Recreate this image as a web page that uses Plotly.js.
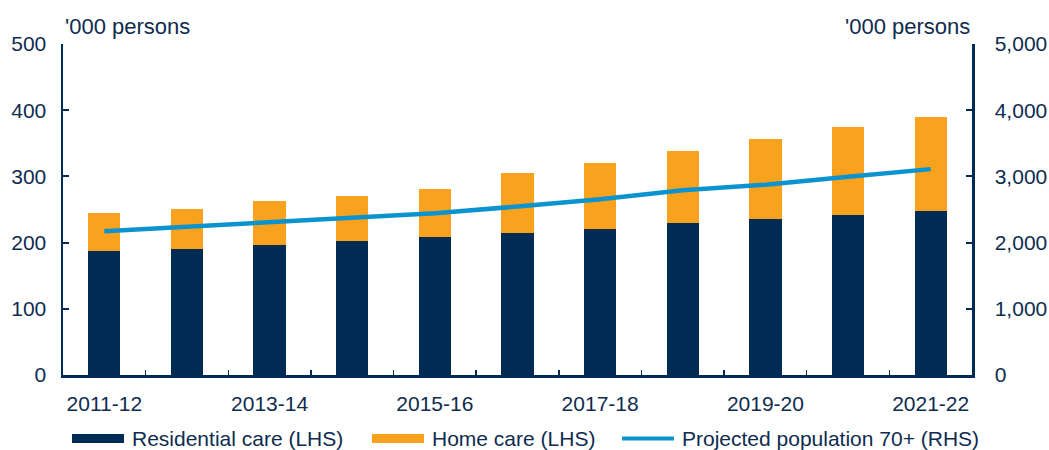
<!DOCTYPE html>
<html>
<head>
<meta charset="utf-8">
<script src="https://cdn.plot.ly/plotly-3.0.1.min.js"></script>
<style>html,body{margin:0;padding:0;background:#fff;}#chart{width:1049px;height:450px;}</style>
</head>
<body>
<div id="chart"></div>
<script>
const categories = ["2011-12","2012-13","2013-14","2014-15","2015-16","2016-17","2017-18","2018-19","2019-20","2020-21","2021-22"];
const residentialCare = [187, 190, 196, 202, 208, 214, 220, 229, 235, 241, 247];
const totalCare = [245, 251, 263, 271, 281, 305, 320, 338, 356, 374, 389];
const homeCare = totalCare.map((t, i) => t - residentialCare[i]);
const population70 = [2170, 2240, 2300, 2370, 2445, 2545, 2655, 2790, 2875, 2995, 3110];
const xTickText = ["2011-12","","2013-14","","2015-16","","2017-18","","2019-20","","2021-22"];
const leftTicks = [0, 100, 200, 300, 400, 500];
const rightTicks = [0, 1000, 2000, 3000, 4000, 5000];

const NAVY = "#002b54";
const ORANGE = "#f9a21e";
const BLUE = "#0a93cf";
const TEXT = "#0e2c4f";
const FONT = "Liberation Sans, Arial, sans-serif";
const FS = 21;

const traces = [
  {type: "bar", name: "Residential care (LHS)", x: categories, y: residentialCare,
   marker: {color: NAVY, line: {width: 0}}, yaxis: "y", showlegend: false},
  {type: "bar", name: "Home care (LHS)", x: categories, y: homeCare,
   marker: {color: ORANGE, line: {width: 0}}, yaxis: "y", showlegend: false},
  {type: "scatter", mode: "lines", name: "Projected population 70+ (RHS)", x: categories, y: population70,
   line: {color: BLUE, width: 4.5}, yaxis: "y2", showlegend: false}
];

const legendItems = [
  {label: "Residential care (LHS)", color: NAVY, kind: "bar", x0: 72},
  {label: "Home care (LHS)", color: ORANGE, kind: "bar", x0: 372},
  {label: "Projected population 70+ (RHS)", color: BLUE, kind: "line", x0: 622}
];
const W = 1049, H = 450, ML = 63, MR = 77, MT = 44, MB = 75;
const PW = W - ML - MR, PH = H - MT - MB;
const px = v => (v - ML) / PW;
const py = v => (H - MB - v) / PH;
const shapes = [];
const annotations = [];
legendItems.forEach(it => {
  if (it.kind === "bar") {
    shapes.push({type: "rect", xref: "paper", yref: "paper", x0: px(it.x0), x1: px(it.x0 + 52),
      y0: py(443), y1: py(434), fillcolor: it.color, line: {width: 0}});
  } else {
    shapes.push({type: "line", xref: "paper", yref: "paper", x0: px(it.x0), x1: px(it.x0 + 52),
      y0: py(438.5), y1: py(438.5), line: {color: it.color, width: 4}});
  }
  annotations.push({xref: "paper", yref: "paper", x: px(it.x0 + 58), y: py(438),
    xanchor: "left", yanchor: "middle", showarrow: false, text: it.label,
    font: {family: FONT, size: FS, color: TEXT}});
});
annotations.push({xref: "paper", yref: "paper", x: 0, y: 1, yshift: 18, xanchor: "left", yanchor: "middle",
  showarrow: false, text: "'000 persons", font: {family: FONT, size: 22, color: TEXT}});
annotations.push({xref: "paper", yref: "paper", x: 1, y: 1, yshift: 18, xanchor: "right", yanchor: "middle",
  showarrow: false, text: "'000 persons", font: {family: FONT, size: 22, color: TEXT}});

const layout = {
  width: W, height: H,
  margin: {l: ML, r: MR, t: MT, b: MB},
  paper_bgcolor: "#ffffff", plot_bgcolor: "#ffffff",
  barmode: "stack", bargap: 0.61,
  showlegend: false,
  font: {family: FONT, size: FS, color: TEXT},
  xaxis: {type: "category", tickmode: "array", tickvals: categories, ticktext: xTickText,
    tickson: "boundaries", ticks: "inside", ticklen: 5, tickwidth: 1.5, tickcolor: NAVY, tickangle: 0,
    showline: true, linecolor: NAVY, linewidth: 2.5, showgrid: false, zeroline: false,
    tickfont: {family: FONT, size: FS, color: TEXT}, ticklabelstandoff: 8},
  yaxis: {range: [0, 500], tickmode: "array", tickvals: leftTicks, ticks: "inside", ticklen: 6, tickwidth: 2,
    tickcolor: NAVY, showline: true, linecolor: NAVY, linewidth: 2.5, showgrid: false, zeroline: false,
    tickfont: {family: FONT, size: FS, color: TEXT}, ticklabelstandoff: 10},
  yaxis2: {range: [0, 5000], overlaying: "y", side: "right", tickmode: "array", tickvals: rightTicks,
    tickformat: ",", ticks: "inside", ticklen: 6, tickwidth: 2, tickcolor: NAVY,
    showline: true, linecolor: NAVY, linewidth: 2.5, showgrid: false, zeroline: false,
    tickfont: {family: FONT, size: FS, color: TEXT}, ticklabelstandoff: 16},
  shapes: shapes,
  annotations: annotations
};

Plotly.newPlot("chart", traces, layout, {displayModeBar: false, staticPlot: true});
</script>
</body>
</html>
